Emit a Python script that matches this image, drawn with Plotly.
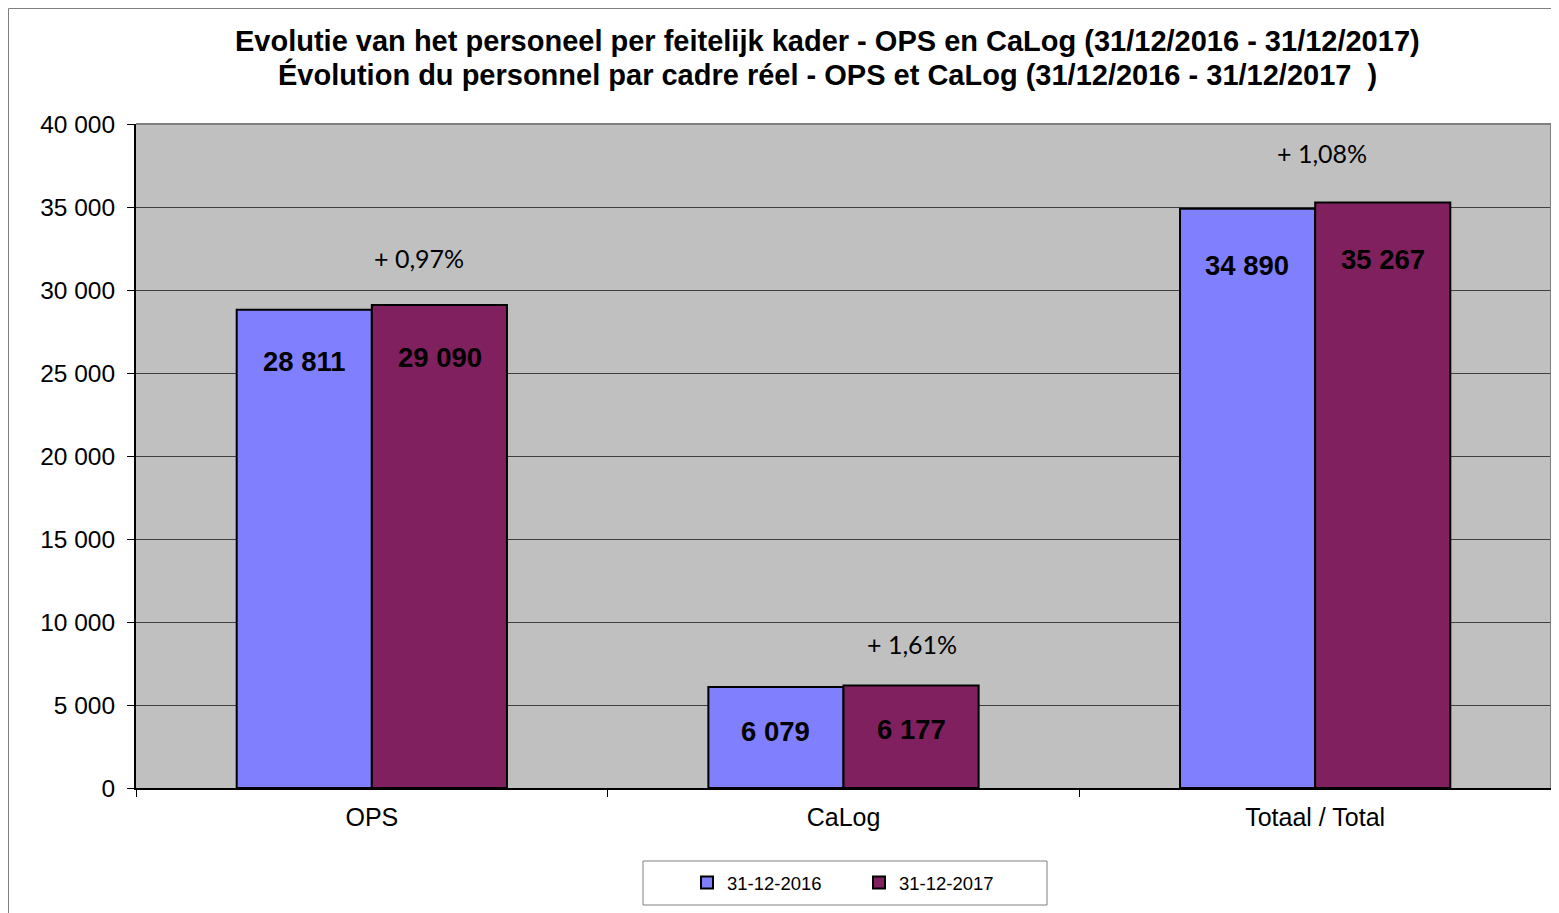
import plotly.graph_objects as go

# ---- data ----
categories = ["OPS", "CaLog", "Totaal / Total"]
series_names = ["31-12-2016", "31-12-2017"]
values_2016 = [28811, 6079, 34890]
values_2017 = [29090, 6177, 35267]
y_ticks = [0, 5000, 10000, 15000, 20000, 25000, 30000, 35000, 40000]
title_nl = "Evolutie van het personeel per feitelijk kader - OPS en CaLog (31/12/2016 - 31/12/2017)"
title_fr = "Évolution du personnel par cadre réel - OPS et CaLog (31/12/2016 - 31/12/2017\u00a0\u00a0)"

# ---- style ----
FONT = "Liberation Sans, Arial, sans-serif"
PCT_FONT = "Lato, Carlito, Calibri, sans-serif"
BLUE = "#8080FF"
PURPLE = "#80205F"
label_drop_px = [52, 44, 57]      # distance of value labels below bar tops
pct_x_offset = [0.10, 0.145, 0.015]  # horizontal offset of % labels (category units)
pct_rise_px = [47, 41, 50]        # height of % labels above the taller bar

W, H = 1551, 905
ML, MR, MT, MB = 128, 8, 116, 125
PW, PH = W - ML - MR, H - MT - MB


def fmt_int(v):
    return f"{v:,}".replace(",", " ")


fig = go.Figure()
for name, vals, col in [(series_names[0], values_2016, BLUE), (series_names[1], values_2017, PURPLE)]:
    fig.add_trace(go.Bar(
        x=categories, y=vals, name=name,
        marker=dict(color=col, line=dict(color="black", width=2)),
        hoverinfo="x+y",
    ))

annotations = []
# value labels inside bars
for i, cat in enumerate(categories):
    for j, (vals, xs) in enumerate([(values_2016, -0.1435), (values_2017, 0.1435)]):
        annotations.append(dict(
            x=i + xs, y=vals[i], xref="x", yref="y", text=f"<b>{fmt_int(vals[i])}</b>",
            showarrow=False, yshift=-label_drop_px[i], yanchor="middle",
            font=dict(family=FONT, size=27.5, color="black"),
        ))
    pct = (values_2017[i] - values_2016[i]) / values_2016[i] * 100
    annotations.append(dict(
        x=i + pct_x_offset[i], y=max(values_2016[i], values_2017[i]), xref="x", yref="y",
        text=("+ " + f"{pct:.2f}".replace(".", ",") + "%"),
        showarrow=False, yshift=pct_rise_px[i], yanchor="middle",
        font=dict(family=PCT_FONT, size=25, color="black"),
    ))

# title lines
tx = (819 - ML) / PW
for txt, yc in [(title_nl, 33), (title_fr, 67)]:
    annotations.append(dict(
        x=tx, y=1 + (MT - yc) / PH, xref="paper", yref="paper", text=f"<b>{txt}</b>",
        showarrow=False, xanchor="center", yanchor="middle",
        font=dict(family=FONT, size=29, color="black"),
    ))

shapes = [
    # plot area top/right border (grey)
    dict(type="line", xref="paper", yref="paper", x0=0, x1=1, y0=1, y1=1,
         line=dict(color="#808080", width=2)),
    dict(type="line", xref="paper", yref="paper", x0=1, x1=1, y0=0, y1=1,
         line=dict(color="#808080", width=2)),
    # outer chart area border (left + top)
    dict(type="line", xref="paper", yref="paper", x0=(0.5 - ML) / PW, x1=(W + 20 - ML) / PW,
         y0=1 + (MT - 0.5) / PH, y1=1 + (MT - 0.5) / PH, line=dict(color="#808080", width=1)),
    dict(type="line", xref="paper", yref="paper", x0=(0.5 - ML) / PW, x1=(0.5 - ML) / PW,
         y0=1 + (MT - 0.5) / PH, y1=-(H + 20 - MT - PH) / PH, line=dict(color="#808080", width=1)),
    # legend box
    dict(type="rect", xref="paper", yref="paper",
         x0=(635 - ML) / PW, x1=(1039 - ML) / PW,
         y0=-(897 - MT - PH) / PH, y1=-(853 - MT - PH) / PH,
         line=dict(color="#808080", width=1), fillcolor="white", layer="below"),
]

fig.update_layout(
    width=W, height=H,
    margin=dict(l=ML, r=MR, t=MT, b=MB, pad=0),
    paper_bgcolor="white", plot_bgcolor="#C0C0C0",
    separators=", ",
    barmode="group", bargap=0.427, bargroupgap=0,
    font=dict(family=FONT, color="black"),
    showlegend=True,
    legend=dict(
        orientation="h", x=(679 - ML) / PW, xanchor="left",
        y=-(875 - MT - PH) / PH, yanchor="middle",
        bgcolor="rgba(0,0,0,0)", borderwidth=0,
        font=dict(family=FONT, size=18.5, color="black"),
        entrywidth=127, entrywidthmode="pixels", itemwidth=30,
    ),
    annotations=annotations,
    shapes=shapes,
    hovermode="closest",
)
fig.update_xaxes(
    type="category", tickson="boundaries", ticks="outside", ticklen=7, tickcolor="black",
    showline=True, linecolor="black", linewidth=2, showgrid=False,
    tickfont=dict(family=FONT, size=25, color="black"), ticklabelstandoff=6,
    fixedrange=True,
)
fig.update_yaxes(
    range=[0, 40000], tickvals=y_ticks, tickformat=",d", ticks="outside", ticklen=7,
    tickcolor="black", showline=True, linecolor="black", linewidth=2,
    showgrid=True, gridcolor="#404040", gridwidth=1, zeroline=False,
    tickfont=dict(family=FONT, size=24.5, color="black"), ticklabelstandoff=7,
    fixedrange=True,
)

fig.write_html("out.html")
